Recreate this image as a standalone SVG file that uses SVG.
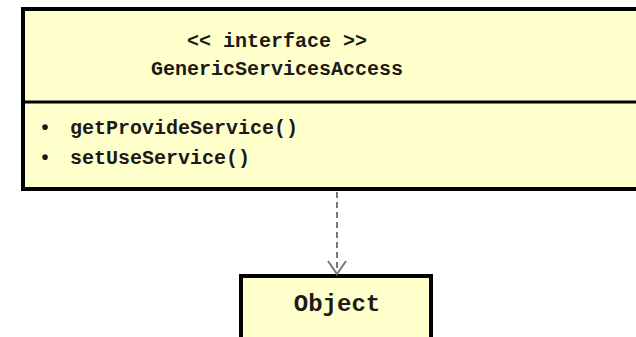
<svg xmlns="http://www.w3.org/2000/svg" width="636" height="337" viewBox="0 0 636 337">
<style>
.box{fill:#FFFFCC;stroke:#000;stroke-width:4}
.t{font-family:"Liberation Mono","Courier New",monospace;font-weight:bold;fill:#1a1a1a}
.c{stroke:#777;stroke-width:2;fill:none}
</style>
<rect width="636" height="337" fill="#fff"/>
<g id="GenericServicesAccess">
<rect class="box" x="23" y="9" width="640" height="180"/>
<line x1="21" y1="102" x2="640" y2="102" stroke="#000" stroke-width="3"/>
<text class="t" x="277" y="47" font-size="20" text-anchor="middle">&lt;&lt; interface &gt;&gt;</text>
<text class="t" x="277" y="75" font-size="20" text-anchor="middle">GenericServicesAccess</text>
<text class="t" x="45" y="134" font-size="20" text-anchor="middle">•</text>
<text class="t" x="70" y="134" font-size="20">getProvideService()</text>
<text class="t" x="45" y="164" font-size="20" text-anchor="middle">•</text>
<text class="t" x="70" y="164" font-size="20">setUseService()</text>
</g>
<g id="Object">
<rect class="box" x="241" y="276" width="190" height="100"/>
<text class="t" x="337" y="311" font-size="24" text-anchor="middle">Object</text>
</g>
<g id="connectors">
<line class="c" x1="337" y1="192" x2="337" y2="272" stroke-dasharray="6,4"/>
<polyline class="c" points="328,261 337,274 346,261"/>
</g>
</svg>
